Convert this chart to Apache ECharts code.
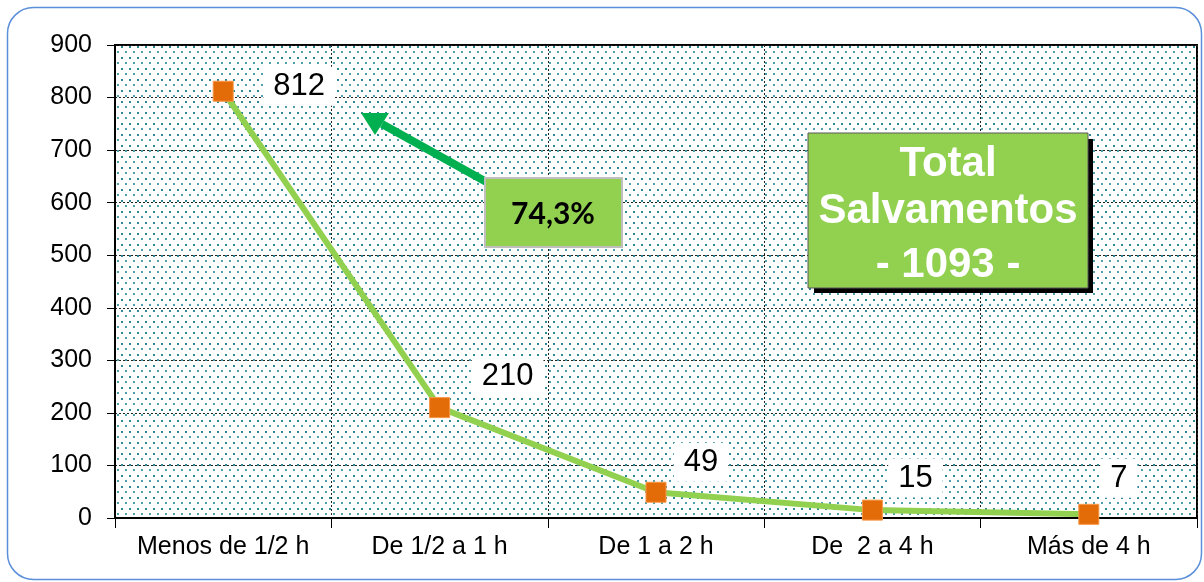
<!DOCTYPE html>
<html>
<head>
<meta charset="utf-8">
<script src="https://cdn.jsdelivr.net/npm/echarts@6/dist/echarts.min.js"></script>
<style>
  html, body { margin: 0; padding: 0; background: #fff; }
  #char { width: 1204px; height: 582px; }
</style>
</head>
<body>
<div id="char"></div>
<script>
var categories = ['Menos de 1/2 h', 'De 1/2 a 1 h', 'De 1 a 2 h', 'De  2 a 4 h', 'Más de 4 h']
var salvamentos = [812, 210, 49, 15, 7]
var yTicks = { min: 0, max: 900, interval: 100 }
var percentText = '74,3%'
var totalText = ['Total', 'Salvamentos', '- 1093 -']

// label offsets (px) for each point label
var labelOffsets = [[76, -5], [68, -31], [45, -30], [43, -32], [30, -36]]

// dotted background pattern
function dotPattern() {
  var c = document.createElement('canvas')
  c.width = 8
  c.height = 11
  var ctx = c.getContext('2d')
  ctx.fillStyle = '#ffffff'
  ctx.fillRect(0, 0, 8, 11)
  ctx.fillStyle = '#2e8797'
  ctx.fillRect(1, 2, 2, 2)
  ctx.fillStyle = '#4f9fae'
  ctx.fillRect(5, 7, 2, 2)
  return c
}

var myChart = echarts.init(document.getElementById('char'))

var seriesData = salvamentos.map(function (v, i) {
  return {
    value: v,
    label: { offset: labelOffsets[i] }
  }
})

var option = {
  animation: false,
  textStyle: { fontFamily: 'Liberation Sans, Arial, sans-serif' },
  grid: {
    show: true,
    left: 115,
    right: 7,
    top: 45,
    bottom: 64,
    backgroundColor: { image: dotPattern(), repeat: 'repeat' },
    borderColor: '#000',
    borderWidth: 2
  },
  xAxis: {
    type: 'category',
    data: categories,
    boundaryGap: true,
    axisLine: { lineStyle: { color: '#000', width: 2 } },
    axisTick: { show: true, length: 10, lineStyle: { color: '#000', width: 1 } },
    axisLabel: { color: '#000', fontSize: 25, margin: 17, interval: 0, hideOverlap: false },
    splitLine: { show: true, lineStyle: { color: '#222', type: [2, 2], width: 1 } }
  },
  yAxis: {
    type: 'value',
    min: yTicks.min,
    max: yTicks.max,
    interval: yTicks.interval,
    axisLine: { show: true, lineStyle: { color: '#000', width: 2 } },
    axisTick: { show: true, length: 8, lineStyle: { color: '#000', width: 1 } },
    axisLabel: { color: '#000', fontSize: 25, margin: 23 },
    splitLine: { show: true, lineStyle: { color: '#222', type: [2, 2], width: 1 } }
  },
  series: [
    {
      type: 'line',
      data: seriesData,
      symbol: 'rect',
      symbolSize: 20,
      z: 5,
      lineStyle: { color: '#92d050', width: 6 },
      itemStyle: { color: '#e36c09', borderColor: '#f79646', borderWidth: 1 },
      label: {
        show: true,
        position: 'inside',
        color: '#000',
        fontSize: 31,
        backgroundColor: '#fff',
        padding: [5, 10, 3, 10]
      }
    }
  ],
  graphic: [
    {
      type: 'rect',
      left: 5,
      top: 5,
      shape: { width: 1194, height: 572, r: 26 },
      style: { fill: 'none', stroke: '#5b8fd9', lineWidth: 1.5 },
      silent: true,
      z: 0
    },
    {
      type: 'line',
      shape: { x1: 490, y1: 184, x2: 382, y2: 124 },
      style: { stroke: '#00b050', lineWidth: 8 },
      z: 20
    },
    {
      type: 'polygon',
      shape: { points: [[361, 113], [389, 113], [375, 135]] },
      style: { fill: '#00b050' },
      z: 20
    },
    {
      type: 'rect',
      shape: { x: 485, y: 178, width: 137, height: 69 },
      style: { fill: '#92d050', stroke: '#bfbfbf', lineWidth: 2 },
      z: 21
    },
    {
      type: 'text',
      x: 553,
      y: 214,
      style: {
        text: percentText,
        fill: '#000',
        font: 'bold 30px Lato, "Open Sans", sans-serif',
        align: 'center',
        verticalAlign: 'middle'
      },
      z: 22
    },
    {
      type: 'rect',
      shape: { x: 814, y: 139, width: 279, height: 154 },
      style: { fill: '#000' },
      z: 20
    },
    {
      type: 'rect',
      shape: { x: 808, y: 133, width: 280, height: 155 },
      style: { fill: '#92d050', stroke: '#595959', lineWidth: 1 },
      z: 21
    },
    {
      type: 'text',
      x: 948,
      y: 164,
      style: { text: totalText[0], fill: '#fff', font: 'bold 42px "Liberation Sans", Arial, sans-serif', align: 'center', verticalAlign: 'middle' },
      z: 22
    },
    {
      type: 'text',
      x: 948,
      y: 211,
      style: { text: totalText[1], fill: '#fff', font: 'bold 42px "Liberation Sans", Arial, sans-serif', align: 'center', verticalAlign: 'middle' },
      z: 22
    },
    {
      type: 'text',
      x: 948,
      y: 265,
      style: { text: totalText[2], fill: '#fff', font: 'bold 42px "Liberation Sans", Arial, sans-serif', align: 'center', verticalAlign: 'middle' },
      z: 22
    }
  ]
}

myChart.setOption(option)
</script>
</body>
</html>
